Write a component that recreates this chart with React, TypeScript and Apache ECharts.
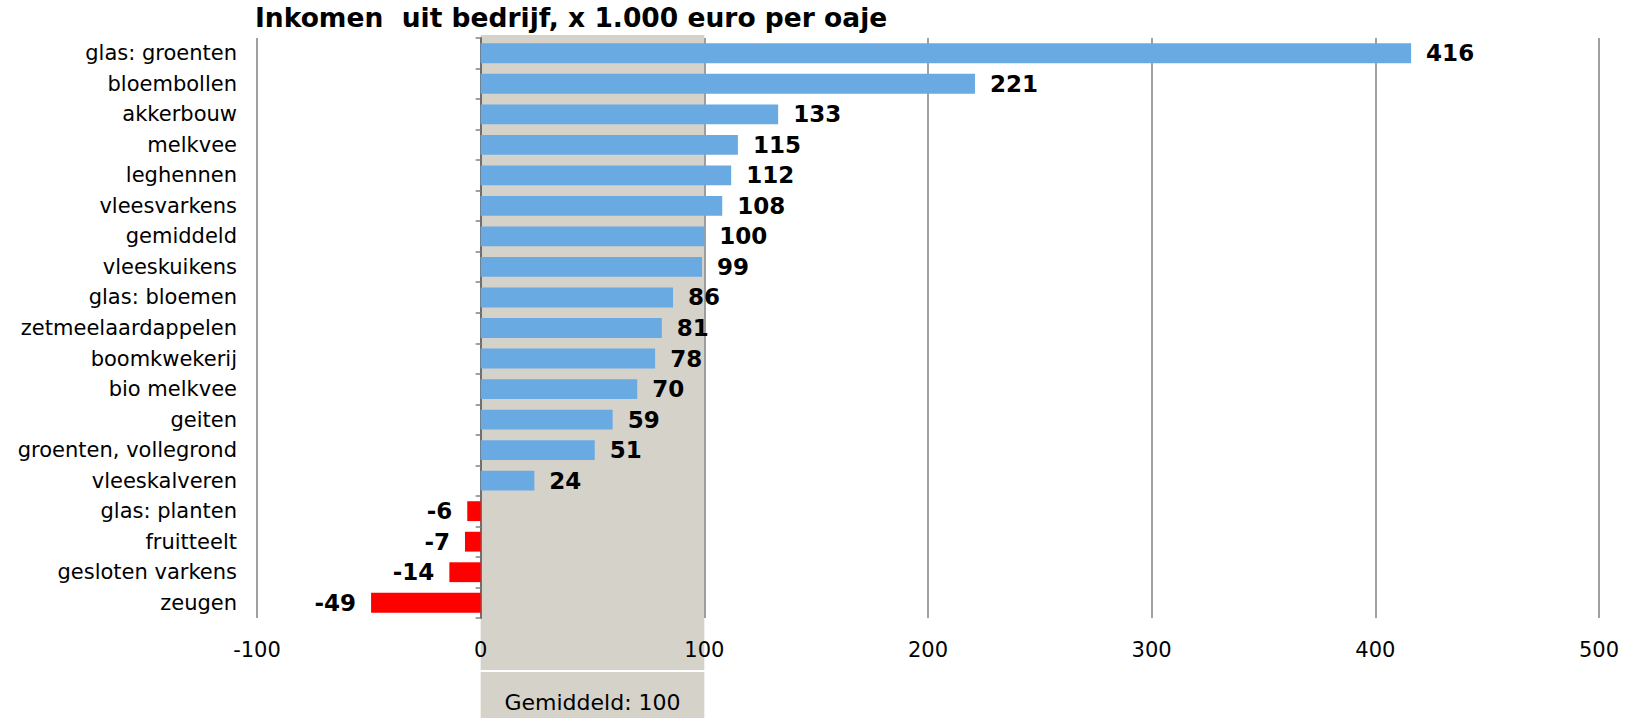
import React, { useEffect, useRef } from "react";
import * as echarts from "echarts";

const TITLE = "Inkomen  uit bedrijf, x 1.000 euro per oaje";
const CATEGORIES = [
  "glas: groenten",
  "bloembollen",
  "akkerbouw",
  "melkvee",
  "leghennen",
  "vleesvarkens",
  "gemiddeld",
  "vleeskuikens",
  "glas: bloemen",
  "zetmeelaardappelen",
  "boomkwekerij",
  "bio melkvee",
  "geiten",
  "groenten, vollegrond",
  "vleeskalveren",
  "glas: planten",
  "fruitteelt",
  "gesloten varkens",
  "zeugen",
];
const VALUES = [416, 221, 133, 115, 112, 108, 100, 99, 86, 81, 78, 70, 59, 51, 24, -6, -7, -14, -49];
const AVERAGE = 100;
const AVERAGE_LABEL = "Gemiddeld: 100";
const X_MIN = -100;
const X_MAX = 500;
const X_STEP = 100;

const FONT = "DejaVu Sans";
const BLUE = "#69AAE3";
const RED = "#FF0000";
const BAND = "#D5D2CA";
const GRID = "#808080";

export default function App() {
  const ref = useRef<HTMLDivElement>(null);
  useEffect(() => {
    document.body.style.margin = "0";
    const chart = echarts.init(ref.current!, null, { renderer: "svg" });
    const option: any = {
      animation: false,
      backgroundColor: "#ffffff",
      title: {
        text: TITLE,
        left: 255,
        top: 4,
        padding: 0,
        textStyle: { fontFamily: FONT, fontSize: 26.5, fontWeight: "bold", color: "#000" },
      },
      grid: {
        left: 257,
        right: 34,
        top: 38,
        bottom: 100,
        containLabel: false,
        outerBoundsMode: "none",
      },
      xAxis: {
        type: "value",
        min: X_MIN,
        max: X_MAX,
        interval: X_STEP,
        axisLine: { show: false },
        axisTick: { show: false },
        axisLabel: { color: "#000", fontFamily: FONT, fontSize: 21, margin: 21 },
        splitLine: { show: true, lineStyle: { color: GRID, width: 1.5 } },
      },
      yAxis: {
        type: "category",
        data: CATEGORIES,
        inverse: true,
        axisLine: { show: true, onZero: true, lineStyle: { color: "#6e6e6e", width: 2 } },
        axisTick: { show: true, inside: false, length: 5, lineStyle: { color: GRID, width: 1.5 } },
        axisLabel: { color: "#000", fontFamily: FONT, fontSize: 21, margin: 20 },
        splitLine: { show: false },
      },
      series: [
        {
          type: "bar",
          barWidth: "65%",
          data: VALUES.map((v) => ({
            value: v,
            itemStyle: { color: v < 0 ? RED : BLUE },
            label: {
              show: true,
              position: v < 0 ? "left" : "right",
              distance: 15,
              color: "#000",
              fontFamily: FONT,
              fontSize: 23,
              fontWeight: "bold",
            },
          })),
          z: 3,
        },
      ],
    };
    chart.setOption(option);

    const x0 = chart.convertToPixel({ xAxisIndex: 0 }, 0) as number;
    const x1 = chart.convertToPixel({ xAxisIndex: 0 }, AVERAGE) as number;
    chart.setOption({
      graphic: [
        {
          type: "rect",
          z: -10,
          silent: true,
          shape: { x: x0, y: 35, width: x1 - x0, height: 670 - 35 },
          style: { fill: BAND },
        },
        {
          type: "rect",
          z: -10,
          silent: true,
          shape: { x: x0, y: 672, width: x1 - x0, height: 718 - 672 },
          style: { fill: BAND },
        },
        {
          type: "text",
          z: 10,
          silent: true,
          x: (x0 + x1) / 2,
          y: 702,
          style: {
            text: AVERAGE_LABEL,
            fill: "#000",
            font: `22px "${FONT}"`,
            align: "center",
            verticalAlign: "middle",
          },
        },
      ],
    });
    return () => chart.dispose();
  }, []);
  return <div ref={ref} style={{ width: 1633, height: 718 }} />;
}
